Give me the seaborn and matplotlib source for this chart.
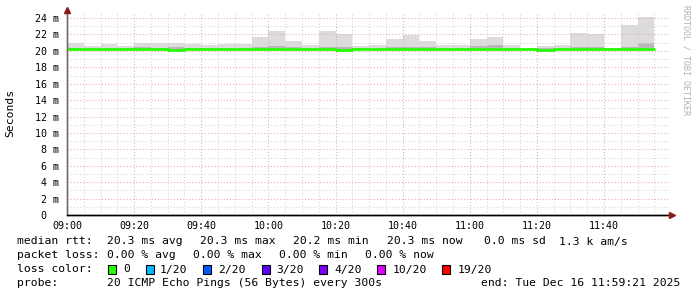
import numpy as np
import pandas as pd
import matplotlib
matplotlib.use("Agg")
import matplotlib.pyplot as plt
from matplotlib.patches import Rectangle
import seaborn as sns

# ---------------- data ----------------
start = pd.Timestamp("2025-12-16 09:00:00")
end = pd.Timestamp("2025-12-16 11:59:21")
times = pd.date_range(start, periods=35, freq="5min")

smoke_max = [21.0, 20.6, 20.8, 20.6, 20.95, 20.95, 20.95, 20.8, 20.7, 20.8,
             20.8, 21.7, 22.4, 21.25, 20.7, 22.4, 22.0, 20.6, 20.7, 21.4,
             21.9, 21.25, 20.75, 20.7, 21.5, 21.75, 20.7, 20.4, 20.6, 20.75,
             22.2, 22.0, 20.4, 23.1, 24.1]
smoke_min = [20.1, 20.1, 20.1, 20.1, 20.1, 20.1, 20.0, 20.1, 20.1, 20.1,
             20.1, 20.1, 20.1, 20.1, 20.1, 20.1, 20.0, 20.1, 20.1, 20.1,
             20.1, 20.1, 20.1, 20.1, 20.1, 20.1, 20.1, 20.1, 19.95, 20.1,
             20.1, 20.1, 20.1, 20.1, 20.1]
inner_hi = [20.4, 20.35, 20.4, 20.35, 20.45, 20.4, 20.45, 20.4, 20.35, 20.4,
            20.4, 20.5, 20.6, 20.45, 20.35, 20.5, 20.45, 20.35, 20.4, 20.45,
            20.5, 20.45, 20.4, 20.35, 20.6, 20.7, 20.4, 20.35, 20.3, 20.4,
            20.5, 20.45, 20.35, 20.5, 21.0]
median = [20.2, 20.2, 20.2, 20.2, 20.2, 20.2, 20.1, 20.2, 20.2, 20.2,
          20.2, 20.2, 20.2, 20.2, 20.2, 20.2, 20.15, 20.2, 20.2, 20.2,
          20.2, 20.2, 20.2, 20.2, 20.2, 20.2, 20.2, 20.2, 20.15, 20.2,
          20.2, 20.2, 20.2, 20.2, 20.2]

y_ticks = [0, 2, 4, 6, 8, 10, 12, 14, 16, 18, 20, 22, 24]
y_tick_labels = ["0  ", "2 m", "4 m", "6 m", "8 m", "10 m", "12 m", "14 m",
                 "16 m", "18 m", "20 m", "22 m", "24 m"]
x_tick_labels = ["09:00", "09:20", "09:40", "10:00", "10:20", "10:40",
                 "11:00", "11:20", "11:40"]

loss_labels = ["0", "1/20", "2/20", "3/20", "4/20", "10/20", "19/20"]
loss_colors = ["#26ff00", "#00b8ff", "#0059ff", "#5e00ff", "#7e00ff",
               "#dd00ff", "#ff0000"]

legend_rtt = ["median rtt:", "20.3 ms avg", "20.3 ms max", "20.2 ms min",
              "20.3 ms now", "0.0 ms sd", "1.3 k am/s"]
legend_loss = ["packet loss:", "0.00 % avg", "0.00 % max", "0.00 % min",
               "0.00 % now"]
probe_text = ["probe:", "20 ICMP Echo Pings (56 Bytes) every 300s"]
end_text = "end: Tue Dec 16 11:59:21 2025"

# ---------------- style ----------------
sns.set_style("white")
plt.rcParams["font.family"] = ["DejaVu Sans Mono"]

W, H = 697, 297
fig = plt.figure(figsize=(W / 100, H / 100), dpi=100)
ax = fig.add_axes([67 / W, 1 - 215 / H, 602 / W, 202 / H])

xm = (times - start).total_seconds().values / 60.0
x_end = (end - start).total_seconds() / 60.0
smax = np.array(smoke_max)
smin = np.array(smoke_min)
ihi = np.array(inner_hi)
med = np.array(median)

ax.bar(xm, smax - smin, bottom=smin, width=5, align="edge",
       color="#dcdcdc", linewidth=0, zorder=2)
ax.bar(xm, ihi - smin, bottom=smin, width=5, align="edge",
       color="#b8b8b8", linewidth=0, zorder=2.5)

step_x = np.append(xm, xm[-1] + 5)
step_y = np.append(med, med[-1])
sns.lineplot(x=step_x, y=step_y, drawstyle="steps-post", color="#26ff00",
             linewidth=2.0, ax=ax, zorder=4, estimator=None)

ax.set_xlim(0, x_end)
ax.set_ylim(0, 24.62)

ax.set_xticks(np.arange(0, 161, 20))
ax.set_xticklabels(x_tick_labels)
ax.set_xticks(np.arange(0, 180, 5), minor=True)
ax.set_yticks(y_ticks)
ax.set_yticklabels(y_tick_labels)
ax.set_yticks(np.arange(0, 25, 1), minor=True)

ax.grid(which="minor", color="#d2d2d2", linestyle=(0, (1, 2)), linewidth=0.75)
ax.grid(which="major", color="#eaaaaa", linestyle=(0, (1, 2)), linewidth=0.75)
ax.set_axisbelow(False)

ax.tick_params(axis="both", which="major", labelsize=7.2, length=2.5,
               width=0.8, color="#555555", labelcolor="#000000")
ax.tick_params(axis="x", which="major", pad=1.5)
ax.tick_params(axis="y", which="major", pad=3)
ax.tick_params(axis="both", which="minor", length=1.5, width=0.6,
               color="#888888")

for s in ["top", "right"]:
    ax.spines[s].set_visible(False)
ax.spines["left"].set_color("#7a6a6a")
ax.spines["left"].set_linewidth(1.0)
ax.spines["bottom"].set_color("#000000")
ax.spines["bottom"].set_linewidth(1.0)

# arrows
fig.lines.append(plt.Line2D([67 / W, 67 / W], [1 - 215 / H, 1 - 9 / H],
                            transform=fig.transFigure, color="#7a6a6a",
                            linewidth=1.0))
fig.lines.append(plt.Line2D([67 / W, 672 / W], [1 - 215 / H, 1 - 215 / H],
                            transform=fig.transFigure, color="#000000",
                            linewidth=1.0))
fig.lines.append(plt.Line2D([67 / W], [1 - 10 / H], transform=fig.transFigure,
                            marker="^", markersize=4, color="#8b1a1a",
                            linestyle="none"))
fig.lines.append(plt.Line2D([672 / W], [1 - 215 / H], transform=fig.transFigure,
                            marker=">", markersize=4, color="#8b1a1a",
                            linestyle="none"))

ax.set_ylabel("")
ax.set_xlabel("")
fig.text(10 / W, 1 - 113 / H, "Seconds", rotation=90, ha="center",
         va="center", fontsize=8.2, color="#000000")
fig.text(686 / W, 1 - 60 / H, "RRDTOOL / TOBI OETIKER", rotation=270,
         ha="center", va="center", fontsize=6.0, color="#b0b0b0")

# ---------------- legend ----------------
fs = 8.2


def put(x, y, s, ha="left"):
    fig.text(x / W, 1 - y / H, s, ha=ha, va="center", fontsize=fs,
             color="#000000")


rtt_x = [16.7, 107.3, 200.0, 293.3, 386.7, 483.5, 558.7]
for x, s in zip(rtt_x, legend_rtt):
    put(x, 241.5, s)

loss_x = [16.7, 107.3, 193.3, 279.3, 365.0]
for x, s in zip(loss_x, legend_loss):
    put(x, 255.5, s)

put(16.7, 269.5, "loss color:")
box_x = [108.3, 145.7, 203.3, 261.7, 319.3, 377.3, 442.3]
lab_x = [123.3, 160.0, 218.3, 276.0, 334.0, 392.7, 457.3]
for bx, lx, c, lab in zip(box_x, lab_x, loss_colors, loss_labels):
    fig.patches.append(Rectangle((bx / W, 1 - 273.5 / H), 8 / W, 8.3 / H,
                                 transform=fig.transFigure, facecolor=c,
                                 edgecolor="#000000", linewidth=0.8))
    put(lx, 269.5, lab)

put(16.7, 283.5, probe_text[0])
put(107.3, 283.5, probe_text[1])
put(680.0, 283.5, end_text, ha="right")

fig.savefig("out.png", dpi=100, facecolor="white")
